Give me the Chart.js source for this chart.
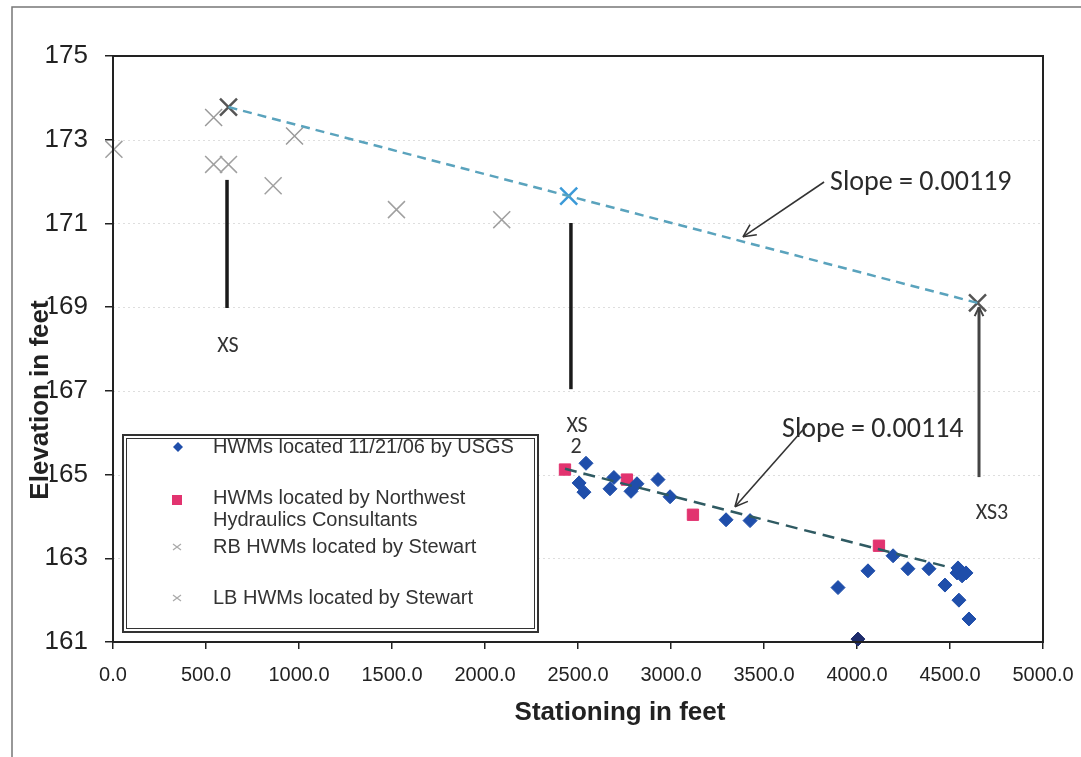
<!DOCTYPE html>
<html>
<head>
<meta charset="utf-8">
<script src="https://cdn.jsdelivr.net/npm/chart.js@4.4.1/dist/chart.umd.min.js"></script>
<style>
html, body { margin: 0; padding: 0; background: #fff; }
canvas { display: block; }
</style>
</head>
<body>
<canvas id="graphique" width="1081" height="757"></canvas>
<script>
// tick values
const stationTicks = [0, 500, 1000, 1500, 2000, 2500, 3000, 3500, 4000, 4500, 5000];
const elevationTicks = [161, 163, 165, 167, 169, 171, 173, 175];

// HWMs located 11/21/06 by USGS
const usgsStation = [2506, 2532, 2543, 2672, 2693, 2785, 2817, 2930, 2995, 3296, 3425, 3898, 4005, 4059, 4194, 4274, 4387, 4473, 4538, 4543, 4565, 4586, 4548, 4602];
const usgsElev = [164.80, 164.58, 165.27, 164.66, 164.93, 164.60, 164.78, 164.88, 164.47, 163.92, 163.90, 162.30, 161.07, 162.70, 163.06, 162.75, 162.75, 162.36, 162.65, 162.77, 162.58, 162.65, 162.00, 161.55];

// HWMs located by Northwest Hydraulics Consultants
const nhcStation = [2430, 2763, 3118, 4118];
const nhcElev = [165.12, 164.88, 164.04, 163.30];

// Stewart HWMs (right bank / left bank)
const rbStation = [541, 621, 976, 2450, 4648];
const rbElev = [173.53, 173.78, 173.09, 171.65, 169.10];
const lbStation = [5, 541, 621, 861, 1524, 2090];
const lbElev = [172.77, 172.41, 172.41, 171.90, 171.33, 171.09];

// slope lines (end points)
const upperSlopeStation = [621, 4648];
const upperSlopeElev = [173.78, 169.10];
const lowerSlopeStation = [2430, 4500];
const lowerSlopeElev = [165.14, 162.78];

function pts(xs, ys) {
    return xs.map((x, i) => ({ x: x, y: ys[i] }));
}

const FONT = '"Liberation Sans", Arial, sans-serif';
const NOTE_FONT = 'Carlito, Lato, "Open Sans", sans-serif';

function arrowHead(ctx, x1, y1, x2, y2, len) {
    const a = Math.atan2(y2 - y1, x2 - x1);
    ctx.beginPath();
    ctx.moveTo(x2, y2);
    ctx.lineTo(x2 - len * Math.cos(a - 0.45), y2 - len * Math.sin(a - 0.45));
    ctx.moveTo(x2, y2);
    ctx.lineTo(x2 - len * Math.cos(a + 0.45), y2 - len * Math.sin(a + 0.45));
    ctx.stroke();
}

const decor = {
    id: 'decor',
    beforeDatasetsDraw(chart) {
        const ctx = chart.ctx;
        const area = chart.chartArea;
        const ys = chart.scales.y;
        ctx.save();
        ctx.strokeStyle = '#dedede';
        ctx.lineWidth = 1;
        ctx.setLineDash([2, 3]);
        elevationTicks.forEach(v => {
            const py = Math.round(ys.getPixelForValue(v)) + 0.5;
            ctx.beginPath();
            ctx.moveTo(area.left, py);
            ctx.lineTo(area.right, py);
            ctx.stroke();
        });
        ctx.restore();
    },
    afterDraw(chart) {
        const ctx = chart.ctx;
        const area = chart.chartArea;
        const xs = chart.scales.x;
        const ys = chart.scales.y;
        const X = v => xs.getPixelForValue(v);
        const Y = v => ys.getPixelForValue(v);
        ctx.save();

        // outer frame of the scanned figure
        ctx.strokeStyle = '#777';
        ctx.lineWidth = 1.5;
        ctx.beginPath();
        ctx.moveTo(12, 757);
        ctx.lineTo(12, 7);
        ctx.lineTo(1081, 7);
        ctx.stroke();

        // plot border
        ctx.strokeStyle = '#222';
        ctx.lineWidth = 2;
        ctx.strokeRect(area.left, area.top, area.right - area.left, area.bottom - area.top);

        // cross-section bars
        ctx.lineCap = 'butt';
        ctx.strokeStyle = '#1a1a1a';
        ctx.lineWidth = 3.5;
        [[613, 172.04, 168.98], [2462, 171.01, 167.04]].forEach(b => {
            ctx.beginPath();
            ctx.moveTo(X(b[0]), Y(b[1]));
            ctx.lineTo(X(b[0]), Y(b[2]));
            ctx.stroke();
        });
        ctx.strokeStyle = '#444';
        ctx.lineWidth = 3;
        ctx.beginPath();
        ctx.moveTo(X(4656), Y(164.94));
        ctx.lineTo(X(4656), Y(169.0));
        ctx.stroke();
        ctx.lineWidth = 2;
        arrowHead(ctx, X(4656), Y(168.0), X(4656), Y(169.0), 10);

        // cross-section labels
        ctx.fillStyle = '#333';
        ctx.font = '22px ' + NOTE_FONT;
        ctx.textAlign = 'center';
        ctx.textBaseline = 'middle';
        ctx.fillText('XS', X(618), Y(168.05));
        ctx.fillText('XS', X(2495), Y(166.14));
        ctx.fillText('2', X(2490), Y(165.64));
        ctx.fillText('XS3', X(4726), Y(164.08));

        // slope notes with arrows
        ctx.font = '28px ' + NOTE_FONT;
        ctx.textAlign = 'left';
        ctx.fillStyle = '#2a2a2a';
        ctx.fillText('Slope = 0.00119', X(3855), Y(171.97));
        ctx.fillText('Slope = 0.00114', X(3597), Y(166.07));
        ctx.strokeStyle = '#333';
        ctx.lineWidth = 1.6;
        [[3823, 171.99, 3387, 170.68], [3731, 166.18, 3344, 164.23]].forEach(a => {
            ctx.beginPath();
            ctx.moveTo(X(a[0]), Y(a[1]));
            ctx.lineTo(X(a[2]), Y(a[3]));
            ctx.stroke();
            arrowHead(ctx, X(a[0]), Y(a[1]), X(a[2]), Y(a[3]), 14);
        });

        // legend box
        ctx.fillStyle = '#fff';
        ctx.fillRect(123, 435, 415, 197);
        ctx.strokeStyle = '#333';
        ctx.lineWidth = 2;
        ctx.strokeRect(123, 435, 415, 197);
        ctx.lineWidth = 1;
        ctx.strokeRect(126.5, 438.5, 408, 190);

        ctx.fillStyle = '#1f4eaa';
        ctx.beginPath();
        ctx.moveTo(178, 442); ctx.lineTo(183, 447); ctx.lineTo(178, 452); ctx.lineTo(173, 447);
        ctx.closePath();
        ctx.fill();
        ctx.fillStyle = '#e2336f';
        ctx.fillRect(172, 495, 10, 10);
        ctx.strokeStyle = '#aaa';
        ctx.lineWidth = 1.2;
        [[177, 547], [177, 598]].forEach(p => {
            ctx.beginPath();
            ctx.moveTo(p[0] - 4, p[1] - 3); ctx.lineTo(p[0] + 4, p[1] + 3);
            ctx.moveTo(p[0] - 4, p[1] + 3); ctx.lineTo(p[0] + 4, p[1] - 3);
            ctx.stroke();
        });

        ctx.fillStyle = '#333';
        ctx.font = '20px ' + FONT;
        ctx.textAlign = 'left';
        ctx.fillText('HWMs located 11/21/06 by USGS', 213, 447);
        ctx.fillText('HWMs located by Northwest', 213, 498);
        ctx.fillText('Hydraulics Consultants', 213, 520);
        ctx.fillText('RB HWMs located by Stewart', 213, 547);
        ctx.fillText('LB HWMs located by Stewart', 213, 598);

        // axis titles
        ctx.fillStyle = '#222';
        ctx.font = 'bold 26px ' + FONT;
        ctx.textAlign = 'center';
        ctx.fillText('Stationing in feet', 620, 713);
        ctx.translate(41, 400);
        ctx.rotate(-Math.PI / 2);
        ctx.strokeStyle = '#fff';
        ctx.lineWidth = 4;
        ctx.lineJoin = 'round';
        ctx.strokeText('Elevation in feet', 0, 0);
        ctx.fillText('Elevation in feet', 0, 0);
        ctx.restore();
    }
};

const graph = document.getElementById('graphique');

new Chart(graph, {
    type: 'scatter',
    data: {
        datasets: [
            {
                label: 'Slope 0.00119',
                type: 'line',
                data: pts(upperSlopeStation, upperSlopeElev),
                borderColor: '#5aa3bd',
                borderWidth: 2.5,
                borderDash: [9, 6],
                pointRadius: 0,
                fill: false
            },
            {
                label: 'Slope 0.00114',
                type: 'line',
                data: pts(lowerSlopeStation, lowerSlopeElev),
                borderColor: '#2f5a62',
                borderWidth: 2.5,
                borderDash: [12, 7],
                pointRadius: 0,
                fill: false
            },
            {
                label: 'HWMs located 11/21/06 by USGS',
                data: pts(usgsStation, usgsElev),
                pointStyle: 'rectRot',
                pointRadius: 7,
                clip: false,
                backgroundColor: usgsElev.map(v => v < 161.5 && v > 161 ? '#1d2b6b' : '#1f4eaa'),
                borderColor: usgsElev.map(v => v < 161.5 && v > 161 ? '#1d2b6b' : '#1f4eaa'),
                borderWidth: 1
            },
            {
                label: 'HWMs located by Northwest Hydraulics Consultants',
                data: pts(nhcStation, nhcElev),
                pointStyle: 'rect',
                pointRadius: 8,
                backgroundColor: '#e2336f',
                borderColor: '#e2336f',
                borderWidth: 1
            },
            {
                label: 'RB HWMs located by Stewart',
                data: pts(rbStation, rbElev),
                pointStyle: 'crossRot',
                pointRadius: 12,
                borderColor: ['#9a9a9a', '#555', '#9a9a9a', '#3b9ad8', '#555'],
                borderWidth: [1.5, 2.5, 1.5, 2.5, 2.5]
            },
            {
                label: 'LB HWMs located by Stewart',
                data: pts(lbStation, lbElev),
                pointStyle: 'crossRot',
                pointRadius: 12,
                clip: false,
                borderColor: '#a0a0a0',
                borderWidth: 1.5
            }
        ]
    },
    options: {
        responsive: false,
        animation: false,
        devicePixelRatio: 1,
        layout: { padding: { top: 56, right: 38, left: 0, bottom: 0 } },
        plugins: {
            legend: { display: false },
            tooltip: { enabled: false }
        },
        scales: {
            x: {
                type: 'linear',
                min: 0,
                max: 5000,
                afterFit: scale => {
                    scale.height = 115;
                    scale.paddingLeft = 0;
                    scale.paddingRight = 0;
                },
                afterBuildTicks: scale => { scale.ticks = stationTicks.map(v => ({ value: v })); },
                ticks: {
                    callback: v => Number(v).toFixed(1),
                    color: '#222',
                    font: { family: FONT, size: 20 },
                    padding: 14,
                    maxRotation: 0,
                    autoSkip: false
                },
                grid: { drawOnChartArea: false, color: '#222', tickLength: 7, lineWidth: 1.5 },
                border: { color: '#222', width: 2 }
            },
            y: {
                type: 'linear',
                min: 161,
                max: 175,
                afterFit: scale => {
                    scale.width = 113;
                    scale.paddingTop = 0;
                    scale.paddingBottom = 0;
                },
                afterBuildTicks: scale => { scale.ticks = elevationTicks.map(v => ({ value: v })); },
                ticks: {
                    color: '#222',
                    font: { family: FONT, size: 26 },
                    padding: 17,
                    autoSkip: false
                },
                grid: { drawOnChartArea: false, color: '#222', tickLength: 8, lineWidth: 1.5 },
                border: { color: '#222', width: 2 }
            }
        }
    },
    plugins: [decor]
});
</script>
</body>
</html>
